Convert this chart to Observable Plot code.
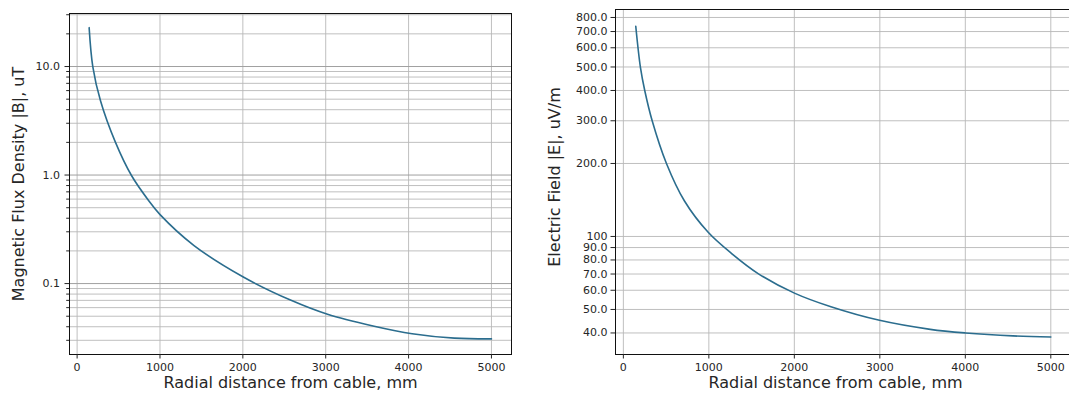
<!DOCTYPE html>
<html>
<head>
<meta charset="utf-8">
<script src="https://cdn.jsdelivr.net/npm/d3@7"></script>
<script src="https://cdn.jsdelivr.net/npm/@observablehq/plot@0.6"></script>
<style>
  html, body { margin: 0; padding: 0; background: #fff; overflow: hidden; }
  #wrap { position: relative; width: 1069px; height: 398px; overflow: hidden; background: #fff; }
  #wrap svg { position: absolute; top: 0; }
</style>
</head>
<body>
<div id="wrap"></div>
<script>
// ---- Data ----
const distanceB = [145, 189, 282, 463, 656, 862, 998, 1411, 2000, 2589, 3022, 3571, 4043, 4553, 5000];
const fluxB = [22.8, 10.0, 4.84, 2.0, 0.99, 0.583, 0.434, 0.224, 0.1155, 0.0697, 0.0521, 0.0407, 0.0345, 0.0314, 0.0309];

const distanceE = [145, 200, 250, 337, 504, 715, 992, 1267, 1576, 2001, 2428, 2996, 3590, 4002, 4557, 5000];
const fieldE = [736, 497, 400, 300, 200, 140, 104, 85, 70.3, 58.4, 51.3, 45.1, 41.4, 40, 38.9, 38.5];

const xTicks = [0, 1000, 2000, 3000, 4000, 5000];
const bMajorTicks = [0.1, 1, 10];
const bMinorTicks = [0.03, 0.04, 0.05, 0.06, 0.07, 0.08, 0.09, 0.2, 0.3, 0.4, 0.5, 0.6, 0.7, 0.8, 0.9, 2, 3, 4, 5, 6, 7, 8, 9, 20, 30];
const eTicks = [40, 50, 60, 70, 80, 90, 100, 200, 300, 400, 500, 600, 700, 800];
const eTickLabels = ["40.0", "50.0", "60.0", "70.0", "80.0", "90.0", "100", "200.0", "300.0", "400.0", "500.0", "600.0", "700.0", "800.0"];

const xLabel = "Radial distance from cable, mm";
const bLabel = "Magnetic Flux Density |B|, uT";
const eLabel = "Electric Field |E|, uV/m";

const lineColor = "#2b6d8e";
const gridColor = "#b8b8b8";
const textColor = "#262626";
const tickFont = 11;
const labelFont = 16;
const font = {fontFamily: "DejaVu Sans", fontSize: tickFont + "px", color: textColor, background: "#fff"};

const dataB = distanceB.map((d, i) => ({r: d, v: fluxB[i]}));
const dataE = distanceE.map((d, i) => ({r: d, v: fieldE[i]}));
const eLabelData = eTicks.map((d, i) => ({v: d, t: eTickLabels[i]}));

function xAxisMarks(labelDx) {
  return [
    Plot.axisX(xTicks, {tickSize: 4.5, tickPadding: 4, tickFormat: d => String(d), label: null, fontSize: tickFont}),
    Plot.text([xLabel], {frameAnchor: "bottom", dy: 33, dx: labelDx, text: d => d, fontSize: labelFont, fill: textColor})
  ];
}

const left = Plot.plot({
  width: 540, height: 398,
  marginLeft: 69, marginRight: 29, marginTop: 13, marginBottom: 44,
  style: font,
  x: {domain: [-92, 5242]},
  y: {type: "log", domain: [0.0222, 30.8]},
  marks: [
    Plot.gridX(xTicks, {stroke: gridColor, strokeOpacity: 1, strokeWidth: 0.9}),
    Plot.gridY(bMinorTicks, {stroke: gridColor, strokeOpacity: 1, strokeWidth: 0.9}),
    Plot.gridY(bMajorTicks, {stroke: "#a0a0a0", strokeOpacity: 1, strokeWidth: 1}),
    Plot.line(dataB, {x: "r", y: "v", stroke: lineColor, strokeWidth: 1.6, curve: "catmull-rom"}),
    Plot.frame({stroke: "#111", strokeWidth: 1}),
    ...xAxisMarks(0),
    Plot.axisY(bMinorTicks, {tickSize: 2.8, tickFormat: () => "", label: null}),
    Plot.axisY(bMajorTicks, {tickSize: 4.5, tickPadding: 5, tickFormat: d3.format(".1f"), label: null, fontSize: tickFont}),
    Plot.text([bLabel], {frameAnchor: "left", dx: -51, rotate: -90, textAnchor: "middle", text: d => d, fontSize: labelFont, fill: textColor})
  ]
});
left.style.left = "0px";

const right = Plot.plot({
  width: 540, height: 398,
  marginLeft: 75, marginRight: 9, marginTop: 9, marginBottom: 44,
  style: font,
  x: {domain: [-92, 5242]},
  y: {type: "log", domain: [32.6, 863]},
  marks: [
    Plot.gridX(xTicks, {stroke: gridColor, strokeOpacity: 1, strokeWidth: 0.9}),
    Plot.gridY(eTicks, {stroke: gridColor, strokeOpacity: 1, strokeWidth: 0.9}),
    Plot.line(dataE, {x: "r", y: "v", stroke: lineColor, strokeWidth: 1.6, curve: "catmull-rom"}),
    Plot.frame({stroke: "#111", strokeWidth: 1}),
    ...xAxisMarks(-8),
    Plot.axisY(eTicks, {tickSize: 4.5, tickFormat: () => "", label: null}),
    Plot.text(eLabelData, {y: "v", text: "t", frameAnchor: "left", textAnchor: "end", dx: -8, fontSize: tickFont, fill: textColor}),
    Plot.text([eLabel], {frameAnchor: "left", dx: -61, dy: -5, rotate: -90, textAnchor: "middle", text: d => d, fontSize: labelFont, fill: textColor})
  ]
});
right.style.left = "540px";

const wrap = document.getElementById("wrap");
wrap.appendChild(left);
wrap.appendChild(right);
</script>
</body>
</html>
